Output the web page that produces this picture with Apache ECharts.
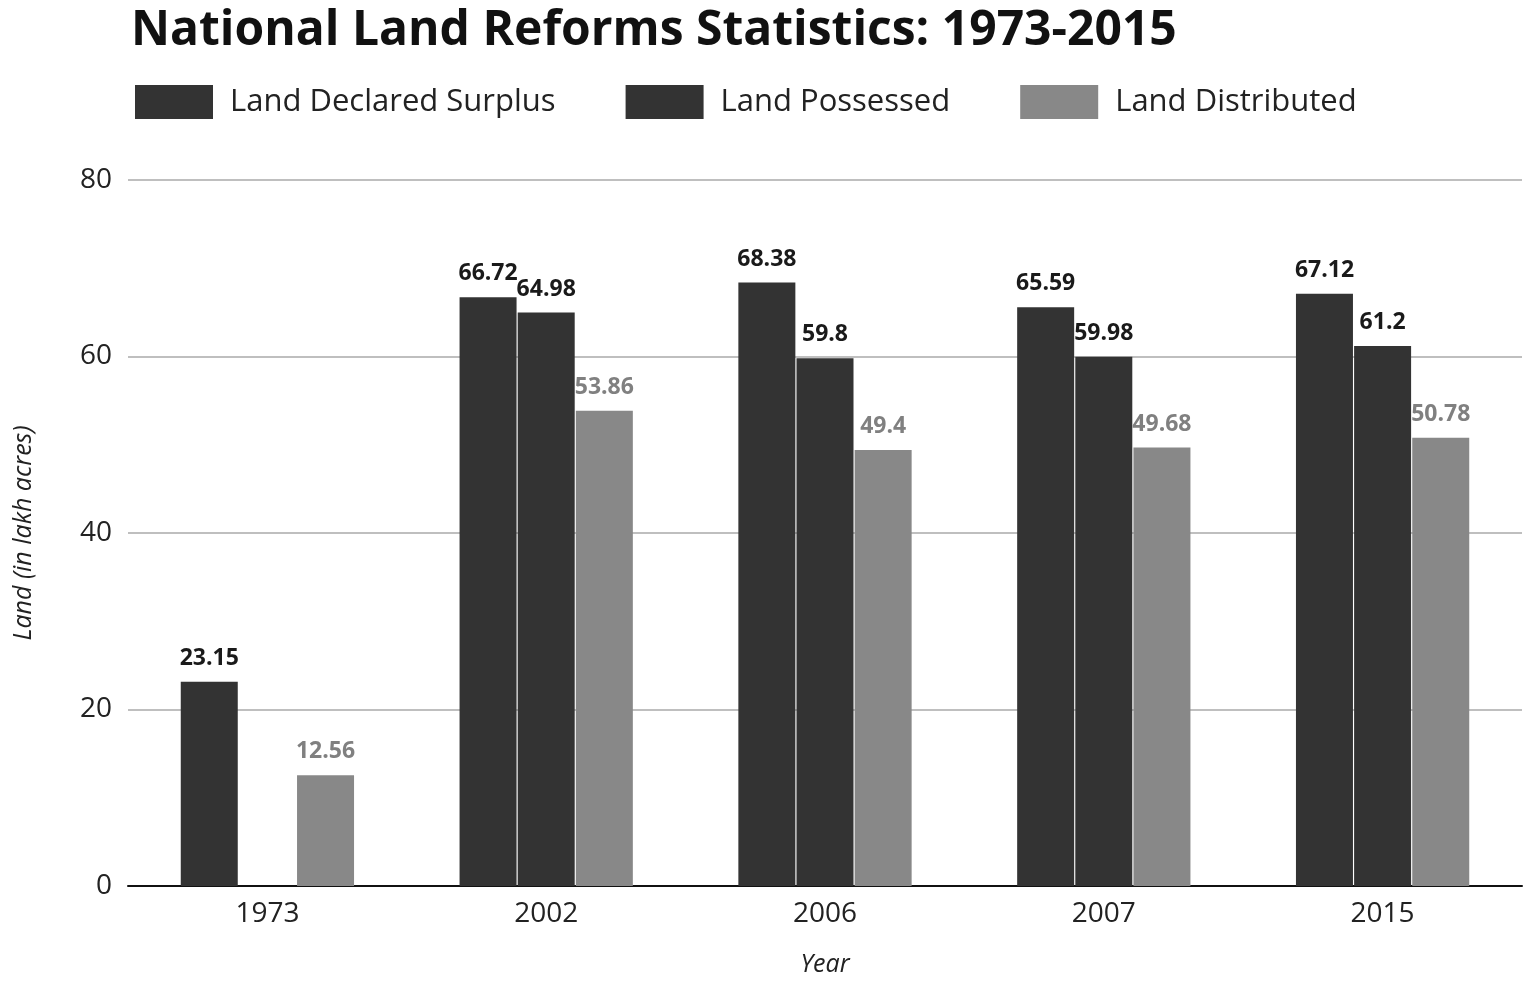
<!DOCTYPE html>
<html>
<head>
<meta charset="utf-8">
<script src="https://cdn.jsdelivr.net/npm/echarts@6/dist/echarts.min.js"></script>
<style>html,body{margin:0;padding:0;background:#fff}#main{width:1533px;height:988px}</style>
</head>
<body>
<div id="main"></div>
<script>
// 数据
var years = ['1973', '2002', '2006', '2007', '2015'];
var declaredSurplus = [23.15, 66.72, 68.38, 65.59, 67.12];
var possessed = [null, 64.98, 59.8, 59.98, 61.2];
var distributed = [12.56, 53.86, 49.4, 49.68, 50.78];

var font = 'Open Sans';
var chart = echarts.init(document.getElementById('main'));

function bar(name, data, color, labelColor) {
  return {
    name: name, type: 'bar', data: data, barWidth: 57, barGap: '2%',
    itemStyle: { color: color },
    label: { show: true, position: 'top', distance: 12, color: labelColor,
      fontFamily: font, fontWeight: 'bold', fontSize: 23 }
  };
}

chart.setOption({
  animation: false,
  title: { text: 'National Land Reforms Statistics: 1973-2015', left: 126, top: 2,
    textStyle: { fontFamily: font, fontWeight: 'bold', fontSize: 48, color: '#111' } },
  legend: {
    left: 130, top: 80, itemWidth: 78, itemHeight: 34, itemGap: 70, icon: 'rect',
    textStyle: { fontFamily: font, fontSize: 31, color: '#222', padding: [0, 0, 0, 12] },
    data: ['Land Declared Surplus', 'Land Possessed', 'Land Distributed']
  },
  grid: { left: 128, right: 11, top: 180, bottom: 102 },
  xAxis: {
    type: 'category', data: years, name: 'Year', nameLocation: 'middle', nameGap: 66,
    nameTextStyle: { fontFamily: font, fontStyle: 'italic', fontSize: 25, color: '#222' },
    axisLine: { lineStyle: { color: '#111', width: 2 } }, axisTick: { show: false },
    axisLabel: { fontFamily: font, fontSize: 28, color: '#222', margin: 14 }
  },
  yAxis: {
    type: 'value', min: 0, max: 80, interval: 20,
    name: 'Land (in lakh acres)', nameLocation: 'middle', nameGap: 92,
    nameTextStyle: { fontFamily: font, fontStyle: 'italic', fontSize: 25, color: '#222' },
    axisLabel: { fontFamily: font, fontSize: 28, color: '#222', margin: 16 },
    splitLine: { lineStyle: { color: '#aaa', width: 1.5 } }
  },
  series: [
    bar('Land Declared Surplus', declaredSurplus, '#333333', '#1a1a1a'),
    bar('Land Possessed', possessed, '#333333', '#1a1a1a'),
    bar('Land Distributed', distributed, '#888888', '#808080')
  ]
});
</script>
</body>
</html>
